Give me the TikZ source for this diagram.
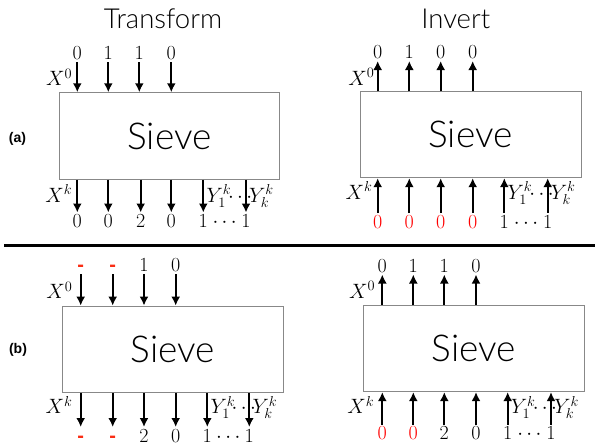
\documentclass[tikz,border=0pt]{standalone}
\usepackage{fontspec}
\setsansfont{Liberation Sans}
\IfFontExistsTF{Lato Light}{\newfontfamily\lightsans{Lato Light}}{\newfontfamily\lightsans{Liberation Sans}}
\usetikzlibrary{arrows.meta,calc}
\definecolor{boxgray}{RGB}{136,136,136}
\definecolor{zerored}{RGB}{255,0,0}
\definecolor{dashred}{RGB}{250,45,20}
\newcommand\rz{\textcolor{zerored}{0}}
\newcommand\rdash{\textcolor{dashred}{\sffamily\bfseries -}}
\begin{document}
\begin{tikzpicture}[x=1pt,y=-1pt,
  sievebox/.style={draw=boxgray, line width=0.9pt, inner sep=0pt, font=\lightsans\fontsize{37}{42}\selectfont},
  arr/.style={line width=1.8pt, -{Latex[length=9pt,width=9pt]}},
  num/.style={font=\fontsize{20}{24}\selectfont, inner xsep=1pt, inner ysep=2pt, text height=13pt, text depth=0pt},
  mlab/.style={font=\fontsize{20}{24}\selectfont, inner sep=0pt},
  title/.style={font=\lightsans\fontsize{27.5}{32}\selectfont, inner sep=0pt},
  tag/.style={font=\sffamily\bfseries\fontsize{14}{16}\selectfont, inner sep=0pt}]
\useasboundingbox (0,0) rectangle (595,445);

% titles and tags
\node[title, anchor=base] (tT) at (163,28.3) {Transform};
\node[title, anchor=base] (tI) at (455.8,28.3) {Invert};
\node[tag] (tagA) at (17.5,139) {(a)};
\node[tag] (tagB) at (18,350) {(b)};

% separator
\draw[line width=3pt] (4,245.7) -- (595,245.7);

% ---------------- (a) Transform ----------------
\node[sievebox, minimum width=220pt, minimum height=86.6pt] (A) at (169.3,136) {Sieve};
\foreach \x/\t [count=\i] in {77.3/0,108.3/1,139.3/1,171.3/0} {
  \node[num, anchor=south] (AT\i) at (\x,62) {\t};
  \draw[arr] (AT\i.south) -- (AT\i |- A.north);
}
\foreach \x/\t [count=\i] in {77.3/0,108.3/0,140.7/2,171.3/0,203.3/1,246/1} {
  \node[num, anchor=north] (AB\i) at (\x,212.5) {\t};
  \draw[arr] (AB\i |- A.south) -- (AB\i.north);
}
\node[num, anchor=base] (ABd) at ($(AB5.base)!0.5!(AB6.base)$) {$\cdots$};
\node[mlab, anchor=base east] (AX0) at ($(AT1 |- A.north)+(-5,-6.5)$) {$X^0$};
\node[mlab, anchor=base east] (AXk) at ($(AB1 |- A.south)+(-5,22.5)$) {$X^k$};
\node[mlab, anchor=base west] (AY1) at ($(AB5 |- A.south)+(3,22.5)$) {$Y_1^k$};
\node[mlab, anchor=base west] (AYk) at ($(AB6 |- A.south)+(3,22.5)$) {$Y_k^k$};
\node[mlab, anchor=base] (AYd) at ($(AY1.base east)!0.5!(AYk.base west)$) {$\cdots$};

% ---------------- (a) Invert ----------------
\node[sievebox, minimum width=221pt, minimum height=86pt] (B) at (470.5,134.7) {Sieve};
\foreach \x/\t [count=\i] in {377.7/0,409.3/1,440.7/0,472.7/0} {
  \node[num, anchor=south] (BT\i) at (\x,61) {\t};
  \draw[arr] (BT\i |- B.north) -- (BT\i.south);
}
\foreach \x/\t [count=\i] in {377.7/\rz,409.3/\rz,440.7/\rz,472.7/\rz,504.3/1,547.7/1} {
  \node[num, anchor=north] (BB\i) at (\x,213) {\t};
  \draw[arr] (BB\i.north) -- (BB\i |- B.south);
}
\node[num, anchor=base] (BBd) at ($(BB5.base)!0.5!(BB6.base)$) {$\cdots$};
\node[mlab, anchor=base east] (BX0) at ($(BT1 |- B.north)+(-3,-6)$) {$X^0$};
\node[mlab, anchor=base east] (BXk) at ($(BB1 |- B.south)+(-5,21)$) {$X^k$};
\node[mlab, anchor=base west] (BY1) at ($(BB5 |- B.south)+(3,21)$) {$Y_1^k$};
\node[mlab, anchor=base west] (BYk) at ($(BB6 |- B.south)+(3,21)$) {$Y_k^k$};
\node[mlab, anchor=base] (BYd) at ($(BY1.base east)!0.5!(BYk.base west)$) {$\cdots$};

% ---------------- (b) Transform ----------------
\node[sievebox, minimum width=220.6pt, minimum height=86.3pt] (C) at (173,349.2) {Sieve};
\foreach \x/\t [count=\i] in {80.7/\rdash,112.7/\rdash,144/1,175.7/0} {
  \node[num, anchor=south] (CT\i) at (\x,274) {\t};
  \draw[arr] (CT\i.south) -- (CT\i |- C.north);
}
\foreach \x/\t [count=\i] in {80.7/\rdash,112.7/\rdash,144/2,175.7/0,207.3/1,249.3/1} {
  \node[num, anchor=north] (CB\i) at (\x,427) {\t};
  \draw[arr] (CB\i |- C.south) -- (CB\i.north);
}
\node[num, anchor=base] (CBd) at ($(CB5.base)!0.5!(CB6.base)$) {$\cdots$};
\node[mlab, anchor=base east] (CX0) at ($(CT1 |- C.north)+(-8,-7)$) {$X^0$};
\node[mlab, anchor=base east] (CXk) at ($(CB1 |- C.south)+(-8,21)$) {$X^k$};
\node[mlab, anchor=base west] (CY1) at ($(CB5 |- C.south)+(3,21)$) {$Y_1^k$};
\node[mlab, anchor=base west] (CYk) at ($(CB6 |- C.south)+(3,21)$) {$Y_k^k$};
\node[mlab, anchor=base] (CYd) at ($(CY1.base east)!0.5!(CYk.base west)$) {$\cdots$};

% ---------------- (b) Invert ----------------
\node[sievebox, minimum width=221pt, minimum height=86.7pt] (D) at (473.8,348.3) {Sieve};
\foreach \x/\t [count=\i] in {382.3/0,413.3/1,444.3/1,476/0} {
  \node[num, anchor=south] (DT\i) at (\x,274.5) {\t};
  \draw[arr] (DT\i |- D.north) -- (DT\i.south);
}
\foreach \x/\t [count=\i] in {382.3/\rz,413.3/\rz,444.3/2,476/0,507.7/1,551/1} {
  \node[num, anchor=north] (DB\i) at (\x,424.5) {\t};
  \draw[arr] (DB\i.north) -- (DB\i |- D.south);
}
\node[num, anchor=base] (DBd) at ($(DB5.base)!0.5!(DB6.base)$) {$\cdots$};
\node[mlab, anchor=base east] (DX0) at ($(DT1 |- D.north)+(-7,-6)$) {$X^0$};
\node[mlab, anchor=base east] (DXk) at ($(DB1 |- D.south)+(-8,21.5)$) {$X^k$};
\node[mlab, anchor=base west] (DY1) at ($(DB5 |- D.south)+(3,21.5)$) {$Y_1^k$};
\node[mlab, anchor=base west] (DYk) at ($(DB6 |- D.south)+(3,21.5)$) {$Y_k^k$};
\node[mlab, anchor=base] (DYd) at ($(DY1.base east)!0.5!(DYk.base west)$) {$\cdots$};
\end{tikzpicture}
\end{document}
